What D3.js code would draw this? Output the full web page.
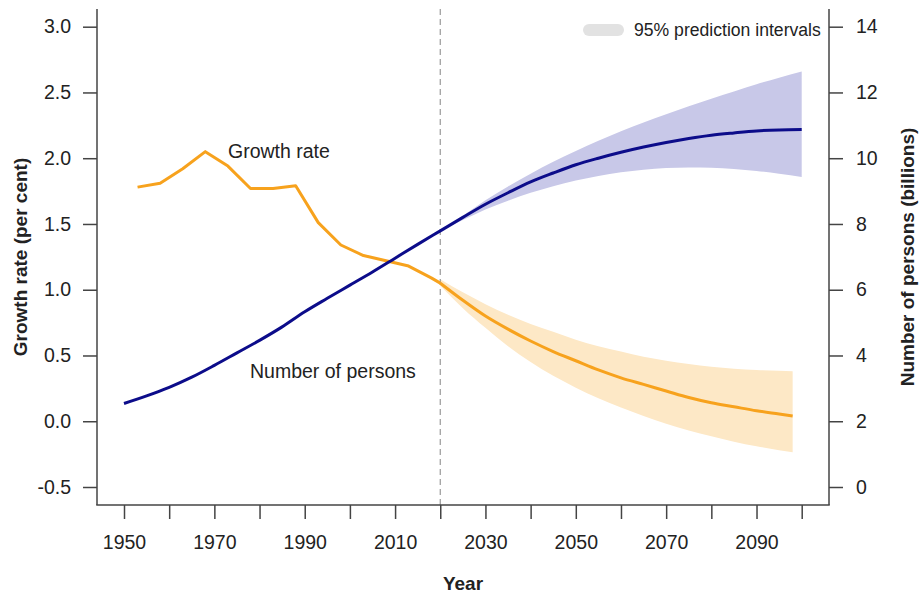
<!DOCTYPE html>
<html>
<head>
<meta charset="utf-8">
<script src="https://cdn.jsdelivr.net/npm/d3@7"></script>
<style>
  html, body { margin: 0; padding: 0; background: #fff; }
  svg { display: block; font-family: "Liberation Sans", Arial, sans-serif; }
</style>
</head>
<body>
<svg id="chart" width="919" height="593"></svg>
<script>
// ---------- DATA ----------
const growthYears = [1953, 1958, 1963, 1968, 1973, 1978, 1983, 1988, 1993, 1998, 2003, 2008, 2013, 2018];
const growthValues = [1.78, 1.81, 1.92, 2.05, 1.94, 1.77, 1.77, 1.79, 1.51, 1.34, 1.26, 1.22, 1.18, 1.09];

const growthProjYears = [2020, 2025, 2030, 2035, 2040, 2045, 2050, 2055, 2060, 2065, 2070, 2075, 2080, 2085, 2090, 2095, 2098];
const growthProjMedian = [1.05, 0.92, 0.80, 0.70, 0.61, 0.53, 0.46, 0.39, 0.33, 0.28, 0.23, 0.18, 0.14, 0.11, 0.08, 0.055, 0.04];
const growthProjUpper  = [1.08, 0.98, 0.89, 0.81, 0.74, 0.68, 0.62, 0.57, 0.53, 0.49, 0.46, 0.435, 0.415, 0.40, 0.39, 0.383, 0.38];
const growthProjLower  = [1.03, 0.86, 0.71, 0.57, 0.45, 0.345, 0.255, 0.175, 0.105, 0.04, -0.02, -0.07, -0.115, -0.155, -0.19, -0.22, -0.235];

const popYears = [1950, 1955, 1960, 1965, 1970, 1975, 1980, 1985, 1990, 1995, 2000, 2005, 2010, 2015, 2020];
const popValues = [2.54, 2.77, 3.03, 3.34, 3.70, 4.08, 4.46, 4.87, 5.33, 5.74, 6.14, 6.54, 6.96, 7.38, 7.79];

const popProjYears = [2020, 2025, 2030, 2035, 2040, 2045, 2050, 2055, 2060, 2065, 2070, 2075, 2080, 2085, 2090, 2095, 2100];
const popProjMedian = [7.79, 8.20, 8.60, 8.95, 9.28, 9.55, 9.80, 10.00, 10.18, 10.34, 10.48, 10.60, 10.70, 10.77, 10.83, 10.86, 10.87];
const popProjUpper  = [7.79, 8.25, 8.72, 9.14, 9.53, 9.89, 10.22, 10.53, 10.82, 11.09, 11.34, 11.58, 11.81, 12.03, 12.25, 12.45, 12.64];
const popProjLower  = [7.79, 8.12, 8.44, 8.71, 8.95, 9.15, 9.32, 9.46, 9.57, 9.65, 9.70, 9.72, 9.71, 9.67, 9.61, 9.53, 9.43];

const xTickValues = [1950, 1960, 1970, 1980, 1990, 2000, 2010, 2020, 2030, 2040, 2050, 2060, 2070, 2080, 2090, 2100];
const xTickLabels = ["1950", "", "1970", "", "1990", "", "2010", "", "2030", "", "2050", "", "2070", "", "2090", ""];
const leftTickValues = [-0.5, 0.0, 0.5, 1.0, 1.5, 2.0, 2.5, 3.0];
const leftTickLabels = ["-0.5", "0.0", "0.5", "1.0", "1.5", "2.0", "2.5", "3.0"];
const rightTickValues = [0, 2, 4, 6, 8, 10, 12, 14];
const rightTickLabels = ["0", "2", "4", "6", "8", "10", "12", "14"];

const projectionStart = 2020;

// ---------- LAYOUT ----------
const svg = d3.select("#chart");
const axisLeftX = 97, axisRightX = 829, axisBottomY = 505, axisTopY = 9;
const x = d3.scaleLinear().domain([1950, 2100]).range([124, 801.7]);
const yL = d3.scaleLinear().domain([-0.5, 3.0]).range([487, 26.7]);
const yR = d3.scaleLinear().domain([0, 14]).range([487, 26.7]);

const axisColor = "#444";
const textColor = "#222";
const orange = "#f7a21d";
const navy = "#0c0c8a";
const orangeBand = "#fde8c6";
const blueBand = "#c8c8e8";
const tickFont = 19.5;
const labelFont = 19.5;
const titleFont = 19;

// ---------- BANDS ----------
const popBand = popProjYears.map((yr, i) => ({yr, lo: popProjLower[i], hi: popProjUpper[i]}));
const grBand = growthProjYears.map((yr, i) => ({yr, lo: growthProjLower[i], hi: growthProjUpper[i]}));

svg.append("path")
  .datum(popBand)
  .attr("fill", blueBand)
  .attr("d", d3.area().curve(d3.curveMonotoneX)
    .x(d => x(d.yr)).y0(d => yR(d.lo)).y1(d => yR(d.hi)));

svg.append("path")
  .datum(grBand)
  .attr("fill", orangeBand)
  .attr("d", d3.area().curve(d3.curveMonotoneX)
    .x(d => x(d.yr)).y0(d => yL(d.lo)).y1(d => yL(d.hi)));

// ---------- DASHED LINE ----------
svg.append("line")
  .attr("x1", x(projectionStart)).attr("x2", x(projectionStart))
  .attr("y1", axisTopY).attr("y2", axisBottomY)
  .attr("stroke", "#9a9a9a").attr("stroke-width", 1.2)
  .attr("stroke-dasharray", "6,4");

// ---------- LINES ----------
const grHist = growthYears.map((yr, i) => ({yr, v: growthValues[i]}));
grHist.push({yr: growthProjYears[0], v: growthProjMedian[0]});
const grProj = growthProjYears.map((yr, i) => ({yr, v: growthProjMedian[i]}));

svg.append("path").datum(grHist)
  .attr("fill", "none").attr("stroke", orange).attr("stroke-width", 3)
  .attr("stroke-linejoin", "round")
  .attr("d", d3.line().x(d => x(d.yr)).y(d => yL(d.v)));

svg.append("path").datum(grProj)
  .attr("fill", "none").attr("stroke", orange).attr("stroke-width", 3)
  .attr("d", d3.line().curve(d3.curveMonotoneX).x(d => x(d.yr)).y(d => yL(d.v)));

const popAll = popYears.map((yr, i) => ({yr, v: popValues[i]}))
  .concat(popProjYears.slice(1).map((yr, i) => ({yr, v: popProjMedian[i + 1]})));

svg.append("path").datum(popAll)
  .attr("fill", "none").attr("stroke", navy).attr("stroke-width", 3)
  .attr("d", d3.line().curve(d3.curveMonotoneX).x(d => x(d.yr)).y(d => yR(d.v)));

// ---------- AXES ----------
function styleAxis(g, fontSize) {
  g.select(".domain").remove();
  g.selectAll(".tick line").attr("stroke", axisColor).attr("stroke-width", 1.5);
  g.selectAll(".tick text").attr("fill", textColor).style("font-size", fontSize + "px")
    .style("font-family", '"Liberation Sans", Arial, sans-serif');
}

const gL = svg.append("g").attr("transform", `translate(${axisLeftX},0)`)
  .call(d3.axisLeft(yL).tickValues(leftTickValues).tickFormat((d, i) => leftTickLabels[i])
    .tickSize(14).tickPadding(12));
styleAxis(gL, tickFont);

const gR = svg.append("g").attr("transform", `translate(${axisRightX},0)`)
  .call(d3.axisRight(yR).tickValues(rightTickValues).tickFormat((d, i) => rightTickLabels[i])
    .tickSize(14).tickPadding(13));
styleAxis(gR, tickFont);

const gB = svg.append("g").attr("transform", `translate(0,${axisBottomY})`)
  .call(d3.axisBottom(x).tickValues(xTickValues).tickFormat((d, i) => xTickLabels[i])
    .tickSize(14).tickPadding(16));
styleAxis(gB, tickFont);

// axis lines
svg.append("line").attr("x1", axisLeftX).attr("x2", axisLeftX).attr("y1", axisTopY).attr("y2", axisBottomY)
  .attr("stroke", axisColor).attr("stroke-width", 1.5);
svg.append("line").attr("x1", axisRightX).attr("x2", axisRightX).attr("y1", axisTopY).attr("y2", axisBottomY)
  .attr("stroke", axisColor).attr("stroke-width", 1.5);
svg.append("line").attr("x1", axisLeftX - 0.75).attr("x2", axisRightX + 0.75).attr("y1", axisBottomY).attr("y2", axisBottomY)
  .attr("stroke", axisColor).attr("stroke-width", 1.5);

// ---------- TITLES ----------
svg.append("text").attr("x", (axisLeftX + axisRightX) / 2).attr("y", 590)
  .attr("text-anchor", "middle").attr("font-weight", "bold").attr("font-size", titleFont)
  .attr("fill", textColor).text("Year");

svg.append("text")
  .attr("transform", `translate(27,${(axisTopY + axisBottomY) / 2}) rotate(-90)`)
  .attr("text-anchor", "middle").attr("font-weight", "bold").attr("font-size", titleFont)
  .attr("fill", textColor).text("Growth rate (per cent)");

svg.append("text")
  .attr("transform", `translate(914,${(axisTopY + axisBottomY) / 2}) rotate(-90)`)
  .attr("text-anchor", "middle").attr("font-weight", "bold").attr("font-size", titleFont)
  .attr("fill", textColor).text("Number of persons (billions)");

// ---------- LABELS ----------
svg.append("text").attr("x", 228).attr("y", 158).attr("font-size", labelFont)
  .attr("fill", textColor).text("Growth rate");
svg.append("text").attr("x", 250).attr("y", 378).attr("font-size", labelFont)
  .attr("fill", textColor).text("Number of persons");

// ---------- LEGEND ----------
svg.append("rect").attr("x", 583).attr("y", 24).attr("width", 41).attr("height", 12)
  .attr("rx", 6).attr("ry", 6).attr("fill", "#e2e2e2");
svg.append("text").attr("x", 634).attr("y", 36).attr("font-size", 17.6)
  .attr("fill", textColor).text("95% prediction intervals");
</script>
</body>
</html>
